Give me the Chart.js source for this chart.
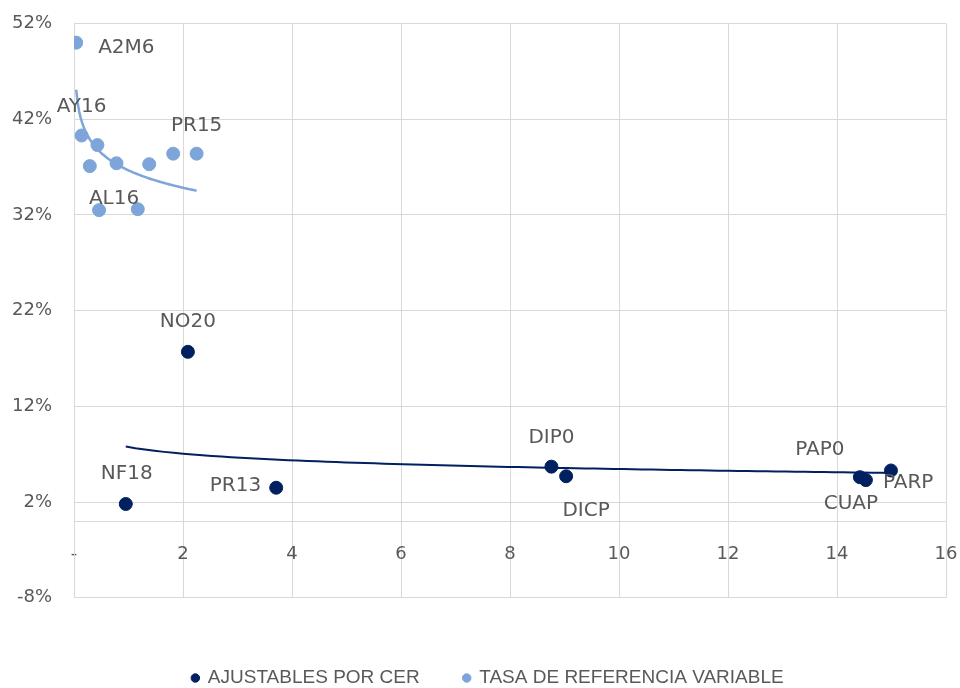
<!DOCTYPE html>
<html>
<head>
<meta charset="utf-8">
<script src="https://cdn.jsdelivr.net/npm/chart.js@4.4.1/dist/chart.umd.min.js"></script>
<style>
  html, body { margin: 0; padding: 0; background: #fff; }
  #wrap { width: 960px; height: 688px; }
</style>
</head>
<body>
<div id="wrap"><canvas id="chart" width="960" height="688"></canvas></div>
<script>
// AJUSTABLES POR CER
const cerLabels = ['NF18', 'NO20', 'PR13', 'DIP0', 'DICP', 'PAP0', 'CUAP', 'PARP'];
const cerX = [0.95, 2.09, 3.71, 8.76, 9.03, 14.42, 14.53, 14.99];
const cerY = [1.8, 17.7, 3.5, 5.7, 4.7, 4.6, 4.3, 5.3];

// TASA DE REFERENCIA VARIABLE
const varLabels = ['A2M6', 'AY16', '', '', '', '', '', 'PR15', 'AL16', ''];
const varX = [0.04, 0.14, 0.43, 0.29, 0.78, 1.38, 1.82, 2.25, 0.46, 1.17];
const varY = [50.0, 40.3, 39.3, 37.1, 37.4, 37.3, 38.4, 38.4, 32.5, 32.6];

const seriesNames = ['AJUSTABLES POR CER', 'TASA DE REFERENCIA VARIABLE'];

// label placement: dx, dy, align
const labelPlace = {
  A2M6: [22, 5, 'left'],
  AY16: [0, -29, 'center'],
  PR15: [0, -28, 'center'],
  AL16: [15, -11, 'center'],
  NF18: [1, -30, 'center'],
  NO20: [0, -30, 'center'],
  PR13: [-15, -2, 'right'],
  DIP0: [0, -29, 'center'],
  DICP: [20, 35, 'center'],
  PAP0: [-40, -27, 'center'],
  CUAP: [-15, 24, 'center'],
  PARP: [-8, 12, 'left']
};

const navy = '#002060';
const light = '#7DA5D9';
const grey = '#595959';

// excel-style logarithmic trendline
function logTrend(xs, ys) {
  const n = xs.length;
  const lx = xs.map(v => Math.log(v));
  const mx = lx.reduce((s, v) => s + v, 0) / n;
  const my = ys.reduce((s, v) => s + v, 0) / n;
  let sxy = 0, sxx = 0;
  for (let i = 0; i < n; i++) {
    sxy += (lx[i] - mx) * (ys[i] - my);
    sxx += (lx[i] - mx) * (lx[i] - mx);
  }
  const b = sxy / sxx, a = my - b * mx;
  const lo = Math.min(...xs), hi = Math.max(...xs);
  const pts = [];
  for (let i = 0; i <= 80; i++) {
    const x = lo + (hi - lo) * i / 80;
    pts.push({x: x, y: a + b * Math.log(x)});
  }
  return pts;
}

const toPts = (xs, ys) => xs.map((x, i) => ({x: x, y: ys[i]}));

const pointLabels = {
  id: 'pointLabels',
  afterDatasetsDraw(chart) {
    const ctx = chart.ctx;
    ctx.save();
    ctx.font = '20px "DejaVu Sans"';
    ctx.fillStyle = grey;
    ctx.textBaseline = 'middle';
    chart.data.datasets.forEach((ds, di) => {
      if (!ds.pointNames) return;
      chart.getDatasetMeta(di).data.forEach((el, i) => {
        const name = ds.pointNames[i];
        if (!name) return;
        const p = labelPlace[name] || [0, -30, 'center'];
        ctx.textAlign = p[2];
        ctx.fillText(name, el.x + p[0], el.y + p[1]);
      });
    });
    ctx.restore();
  }
};

new Chart(document.getElementById('chart'), {
  type: 'scatter',
  data: {
    datasets: [
      {
        label: seriesNames[0],
        data: toPts(cerX, cerY),
        pointNames: cerLabels,
        backgroundColor: navy,
        borderColor: navy,
        pointRadius: 6.5,
        order: 1
      },
      {
        label: seriesNames[1],
        data: toPts(varX, varY),
        pointNames: varLabels,
        backgroundColor: light,
        borderColor: light,
        pointRadius: 6.5,
        order: 1
      },
      {
        label: 'trend1',
        data: logTrend(cerX, cerY),
        showLine: true,
        borderColor: navy,
        borderWidth: 2,
        pointRadius: 0,
        order: 2
      },
      {
        label: 'trend2',
        data: logTrend(varX, varY),
        showLine: true,
        borderColor: light,
        borderWidth: 2.5,
        pointRadius: 0,
        order: 2
      }
    ]
  },
  options: {
    responsive: false,
    animation: false,
    layout: { padding: { left: 12, right: -4, top: 23.5, bottom: -9.5 } },
    scales: {
      x: {
        type: 'linear',
        min: 0,
        max: 16,
        position: { y: 0 },
        grid: { color: '#D9D9D9', drawTicks: false },
        border: { color: '#D9D9D9' },
        ticks: {
          stepSize: 2,
          padding: 22,
          color: grey,
          font: { family: 'DejaVu Sans', size: 18 },
          callback: v => v === 0 ? '-' : v
        },
        afterFit: s => { s.paddingLeft = 0; s.paddingRight = 14; }
      },
      y: {
        min: -8,
        max: 52,
        grid: { color: '#D9D9D9', drawTicks: false },
        border: { color: '#D9D9D9' },
        ticks: {
          stepSize: 10,
          padding: 22,
          color: grey,
          font: { family: 'DejaVu Sans', size: 18 },
          callback: v => Math.round(v) + '%'
        },
        afterFit: s => { s.width = 62; s.paddingTop = 0; s.paddingBottom = 0; }
      }
    },
    plugins: {
      tooltip: { enabled: false },
      legend: {
        position: 'bottom',
        title: { display: true, text: '', font: { size: 1 }, padding: { top: 25.5, bottom: 0 } },
        labels: {
          usePointStyle: true,
          pointStyle: 'circle',
          boxWidth: 6,
          boxHeight: 6,
          padding: 44,
          color: grey,
          font: { family: 'Liberation Sans', size: 19 },
          filter: item => item.datasetIndex < 2
        }
      }
    }
  },
  plugins: [pointLabels]
});
</script>
</body>
</html>
